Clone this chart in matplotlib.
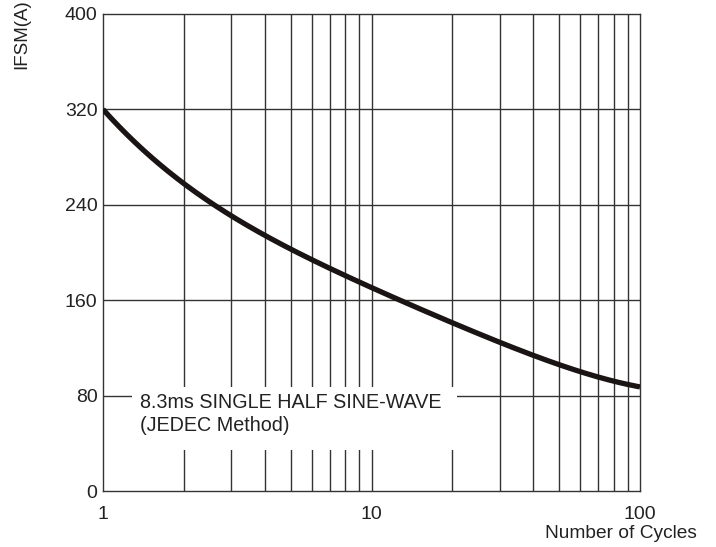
import matplotlib
matplotlib.use("Agg")
import matplotlib.pyplot as plt
from matplotlib.patches import Rectangle
import numpy as np

plt.rcParams['font.family'] = ['Liberation Sans', 'DejaVu Sans']

cycles = [1, 2, 3, 4, 5, 6, 7, 8, 9, 10, 20, 30, 40, 50, 60, 70, 80, 90, 100]
ifsm = [320, 258, 230, 213, 203, 195, 188, 181, 175, 170, 140, 124, 113, 107, 101, 96, 91.5, 89, 87]

y_ticks = [0, 80, 160, 240, 320, 400]
x_ticks = [1, 10, 100]
x_ticklabels = ["1", "10", "100"]
note_lines = ["8.3ms SINGLE HALF SINE-WAVE", "(JEDEC Method)"]

fig = plt.figure(figsize=(7.16, 5.47), dpi=100)
ax = fig.add_axes([103/716, 1-491/547, 537/716, 477.2/547])

ax.set_xscale('log')
ax.set_xlim(1, 100)
ax.set_ylim(0, 400)

grid_color = '#333333'
minor = [m * d for d in (1, 10) for m in range(2, 10)]
for xv in minor + [10]:
    ax.axvline(xv, color=grid_color, lw=1.0, zorder=1)
for yv in y_ticks[1:-1]:
    ax.axhline(yv, color=grid_color, lw=1.0, zorder=1)

lx = np.log10(cycles)
xs = np.linspace(0, 2, 400)
coef = np.polyfit(lx, ifsm, 4)
ys = np.polyval(coef, xs)
ax.plot(10**xs, ys, color='#1a1414', lw=3.8, solid_capstyle='butt', zorder=4)

ax.add_patch(Rectangle((0.054, 0.086), 0.605, 0.132, transform=ax.transAxes,
                       facecolor='white', edgecolor='none', zorder=2))
ax.text(0.069, 0.186, note_lines[0], transform=ax.transAxes, fontsize=14.2,
        va='center', ha='left', color='#222222', zorder=3)
ax.text(0.069, 0.138, note_lines[1], transform=ax.transAxes, fontsize=14.2,
        va='center', ha='left', color='#222222', zorder=3)

ax.set_yticks(y_ticks)
ax.set_yticklabels([str(v) for v in y_ticks])
ax.set_xticks(x_ticks)
ax.set_xticklabels(x_ticklabels)
ax.xaxis.set_minor_locator(matplotlib.ticker.NullLocator())
ax.tick_params(axis='both', length=0, labelsize=14, colors='#222222')
ax.tick_params(axis='y', pad=4)
ax.tick_params(axis='x', pad=11)
for sp in ax.spines.values():
    sp.set_color(grid_color)
    sp.set_linewidth(1.0)

fig.text(22/716, 1-34/547, "IFSM(A)", rotation=90, ha='center', va='center',
         fontsize=13.5, color='#222222')
fig.text(621/716, 1-533/547, "Number of Cycles", ha='center', va='center',
         fontsize=13.8, color='#222222')

fig.savefig("out.png", dpi=100)
